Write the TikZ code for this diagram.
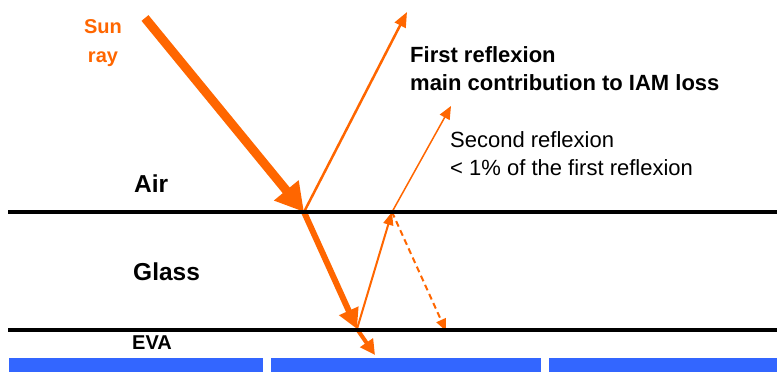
\documentclass[tikz,border=0pt]{standalone}
\usepackage{fontspec}
\setmainfont{Liberation Sans}
\usetikzlibrary{arrows.meta}

\begin{document}
\begin{tikzpicture}[
  x=1pt, y=-1pt,
  ray/.style={draw=sunorange, line cap=butt},
  layerline/.style={draw=black, line width=4pt},
  medium/.style={font=\fontsize{24.5}{28}\selectfont\bfseries, anchor=base west, inner sep=0pt},
  note/.style={font=\fontsize{22}{28}\selectfont, anchor=base west, align=left, inner sep=0pt},
  cell/.style={fill=cellblue}
]

\definecolor{sunorange}{RGB}{255,102,0}
\definecolor{cellblue}{RGB}{51,102,255}

\useasboundingbox (0,0) rectangle (777,372);

% points where the rays meet the layers
\coordinate (sun) at (145,18);
\coordinate (hit1) at (304,212);
\coordinate (hit2) at (357,329);
\coordinate (hit3) at (392,212);
\coordinate (out1) at (407,12);
\coordinate (out2) at (451,106);
\coordinate (out3) at (375,355);
\coordinate (back) at (446,331);

% rays
\draw[ray, line width=9pt, -{Triangle[length=28pt,width=30pt]}] (sun) -- (hit1);
\draw[ray, line width=2.5pt, -{Triangle[length=15pt,width=12pt]}] (hit1) -- (out1);
\draw[ray, line width=6pt, -{Triangle[length=20pt,width=20pt]}] (hit1) -- (hit2);
\draw[ray, line width=4pt, -{Triangle[length=15pt,width=15pt]}] (hit2) -- (out3);
\draw[ray, line width=2pt, -{Triangle[length=13pt,width=10pt]}] (hit2) -- (hit3);
\draw[ray, line width=1.5pt, -{Triangle[length=13pt,width=11pt]}] (hit3) -- (out2);
\draw[ray, line width=2pt, dash pattern=on 6pt off 4pt, -{Triangle[length=12pt,width=10pt]}] (hit3) -- (back);

% glass faces
\coordinate (topL) at (8,212);
\coordinate (topR) at (777,212);
\coordinate (botL) at (8,330);
\coordinate (botR) at (777,330);
\draw[layerline] (topL) -- (topR);
\draw[layerline] (botL) -- (botR);

% cells
\fill[cell] (9,358) rectangle (263,372);
\fill[cell] (271,358) rectangle (541,372);
\fill[cell] (549,358) rectangle (777,372);

% labels (base of a two-line node is its last line)
\node[font=\fontsize{20}{29}\selectfont\bfseries, text=sunorange, align=center, anchor=base, inner sep=0pt] (sunlbl) at (103,62) {Sun\\ray};
\node[medium] (air) at (134,192) {Air};
\node[medium] (glass) at (133,280) {Glass};
\node[medium, font=\fontsize{20}{24}\selectfont\bfseries] (eva) at (132,349) {EVA};
\node[note, font=\fontsize{22}{28}\selectfont\bfseries] (first) at (410,90) {First reflexion\\main contribution to IAM loss};
\node[note] (second) at (450,175) {Second reflexion\\< 1\% of the first reflexion};

\end{tikzpicture}
\end{document}
